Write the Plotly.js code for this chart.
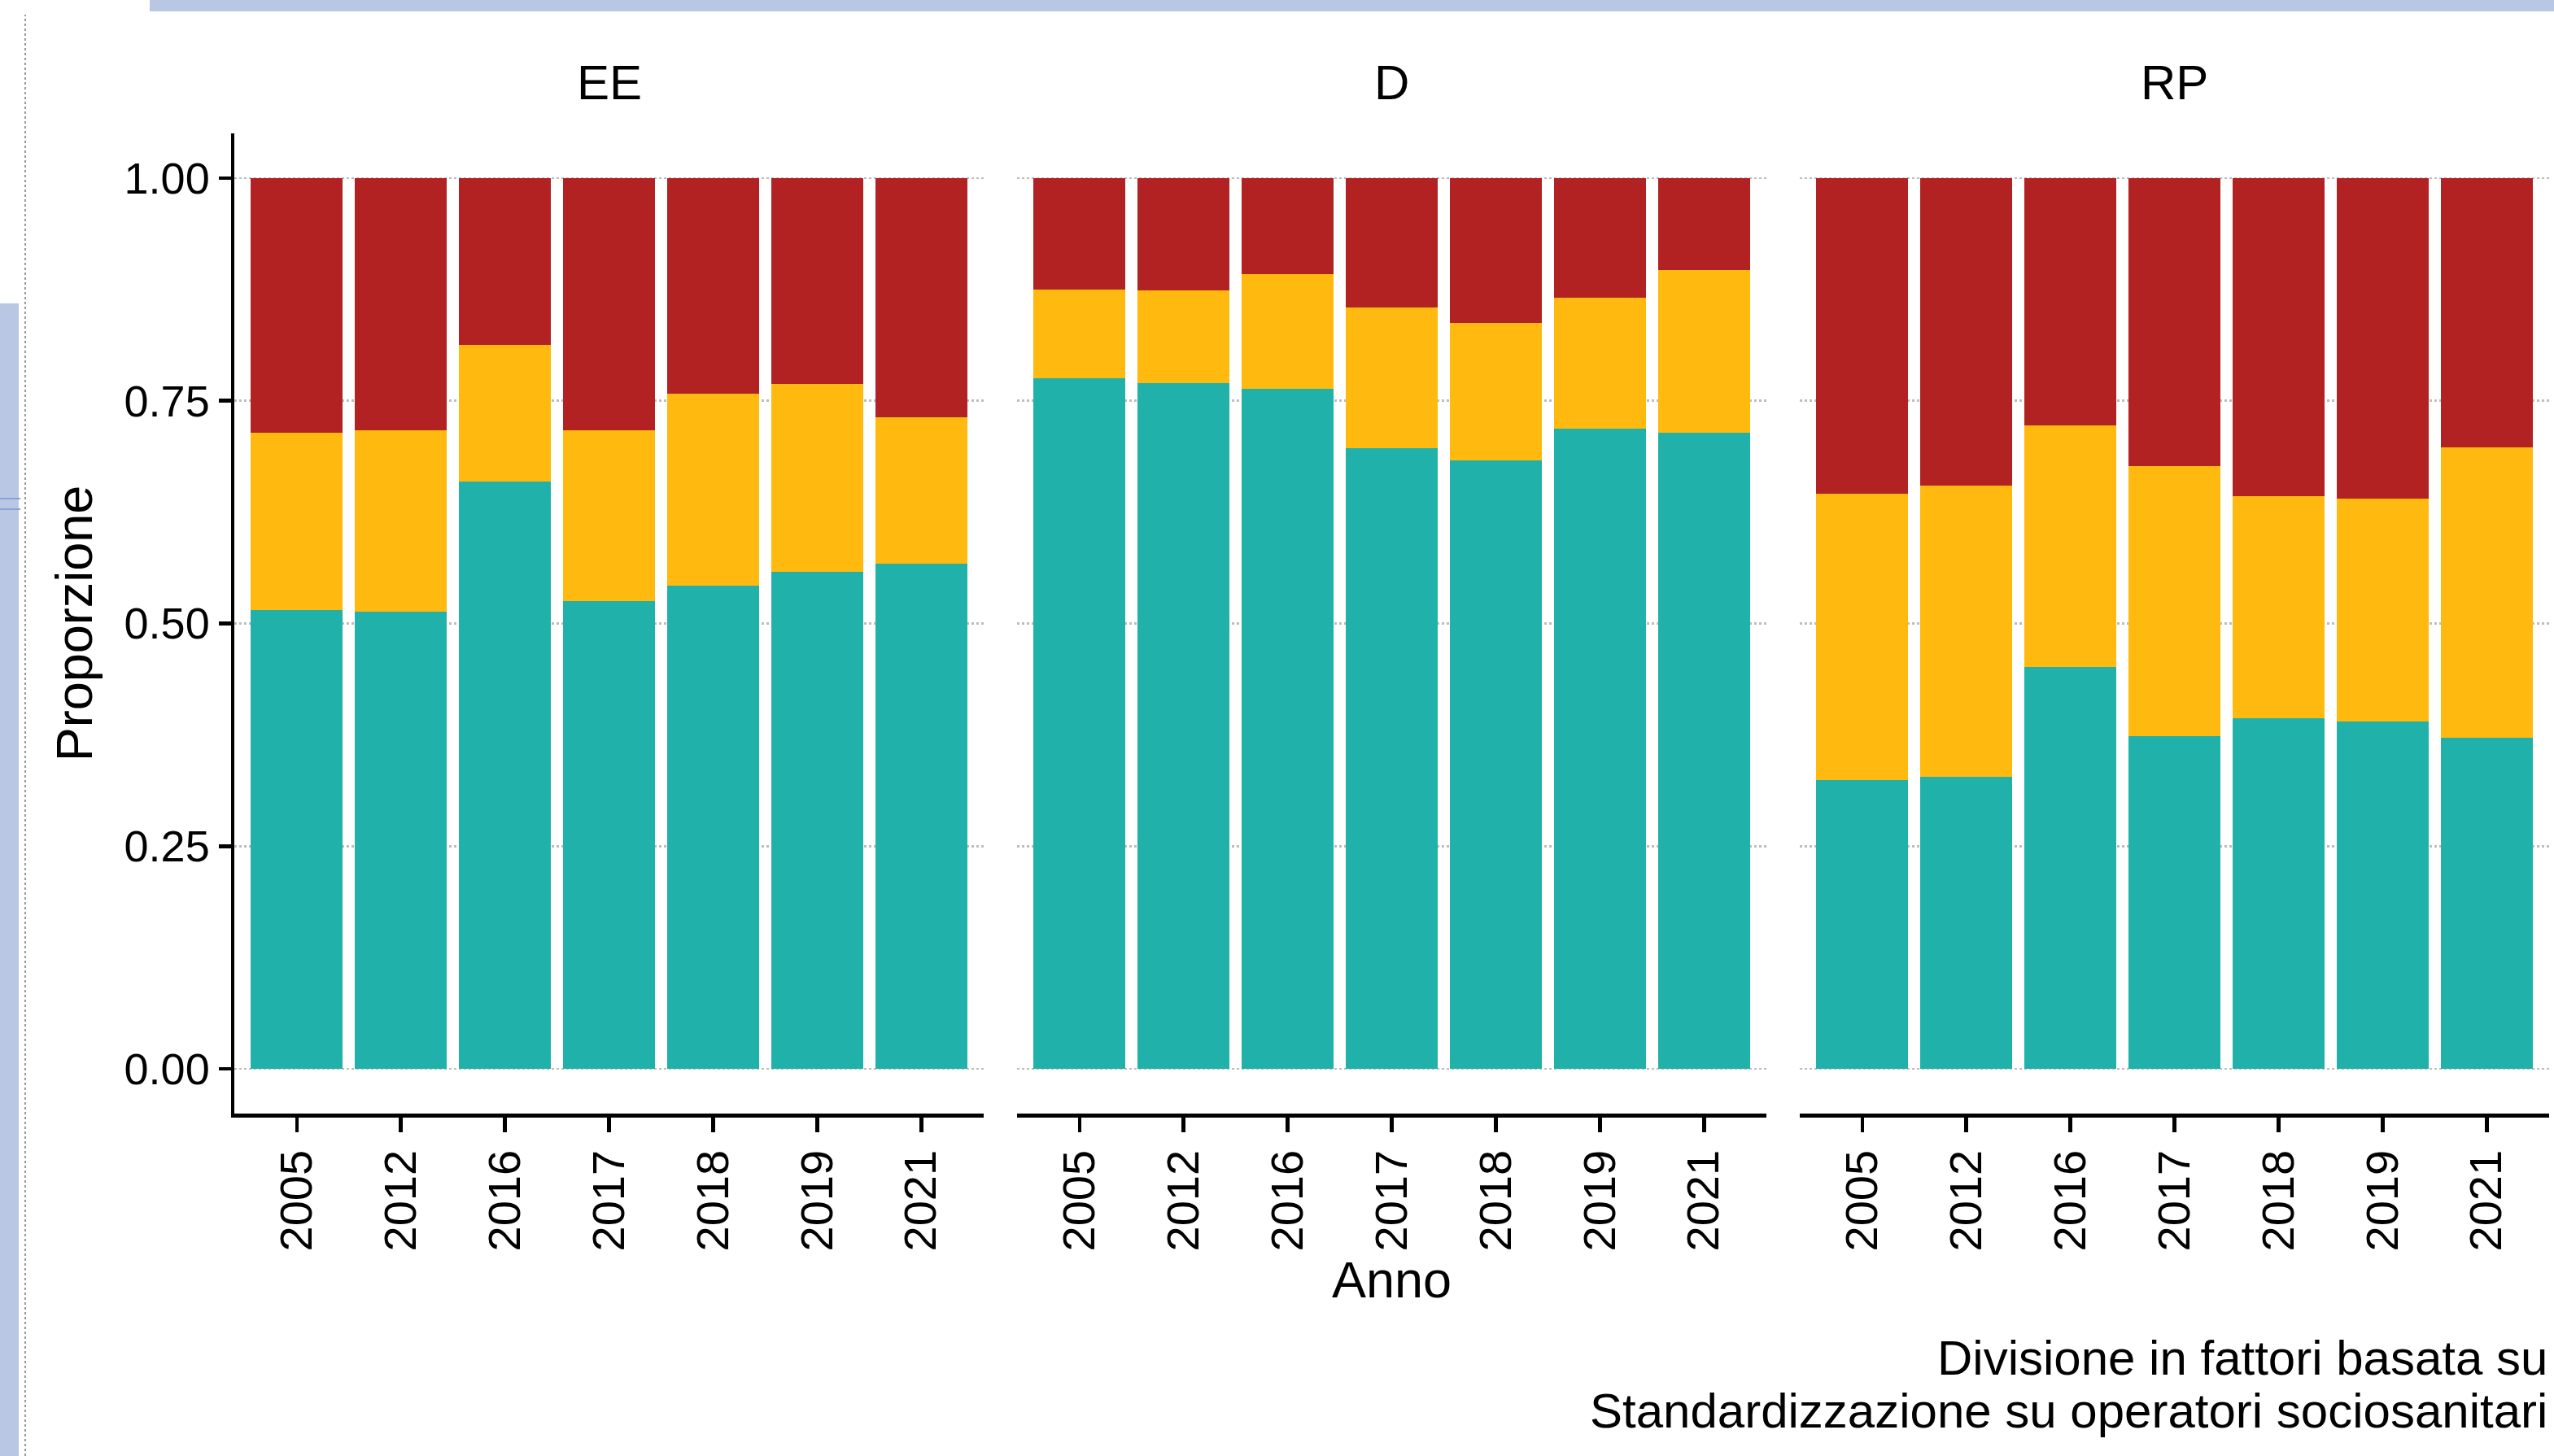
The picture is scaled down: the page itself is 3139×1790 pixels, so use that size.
<!DOCTYPE html>
<html>
<head>
<meta charset="utf-8">
<script src="https://cdn.plot.ly/plotly-3.0.1.min.js"></script>
<style>html,body{margin:0;padding:0;background:#fff;}#chart{width:3139px;height:1790px;}</style>
</head>
<body>
<div id="chart"></div>
<script>
// ---- data ----
const years = ["2005", "2012", "2016", "2017", "2018", "2019", "2021"];
const panels = ["EE", "D", "RP"];

// bottom segment (teal)
const eeTeal   = [0.515, 0.513, 0.659, 0.525, 0.542, 0.558, 0.567];
const dTeal    = [0.775, 0.770, 0.763, 0.697, 0.683, 0.719, 0.714];
const rpTeal   = [0.324, 0.328, 0.451, 0.374, 0.394, 0.390, 0.372];
// middle segment (yellow)
const eeYellow = [0.199, 0.204, 0.154, 0.192, 0.216, 0.211, 0.164];
const dYellow  = [0.100, 0.104, 0.129, 0.158, 0.154, 0.147, 0.183];
const rpYellow = [0.322, 0.327, 0.271, 0.303, 0.249, 0.250, 0.326];
// top segment (red)
const eeRed    = [0.286, 0.283, 0.187, 0.283, 0.242, 0.231, 0.269];
const dRed     = [0.125, 0.126, 0.108, 0.145, 0.163, 0.134, 0.103];
const rpRed    = [0.354, 0.345, 0.278, 0.323, 0.357, 0.360, 0.302];

const yTicks = [0, 0.25, 0.5, 0.75, 1];
const yTickText = ["0.00", "0.25", "0.50", "0.75", "1.00"];
const captionLines = ["Divisione in fattori basata su", "Standardizzazione su operatori sociosanitari"];

// ---- styling ----
const COL_TEAL = "#20B2AA", COL_YEL = "#FFB90F", COL_RED = "#B22222";
const FONT = "Liberation Sans, Arial, Helvetica, sans-serif";
const W = 3139, H = 1790;
const px = v => v / W;             // paper x from pixel
const py = v => 1 - v / H;         // paper y from pixel

const segs = [
  {name: "Fattore 1", color: COL_TEAL, vals: [eeTeal, dTeal, rpTeal]},
  {name: "Fattore 2", color: COL_YEL,  vals: [eeYellow, dYellow, rpYellow]},
  {name: "Fattore 3", color: COL_RED,  vals: [eeRed, dRed, rpRed]}
];

const traces = [];
segs.forEach(s => {
  for (let p = 0; p < 3; p++) {
    traces.push({
      type: "bar",
      x: years,
      y: s.vals[p],
      name: s.name,
      legendgroup: s.name,
      showlegend: false,
      xaxis: p === 0 ? "x" : "x" + (p + 1),
      yaxis: p === 0 ? "y" : "y" + (p + 1),
      marker: {color: s.color, line: {width: 0}},
      hovertemplate: panels[p] + " %{x}: %{y:.3f}<extra>" + s.name + "</extra>"
    });
  }
});

const panelPx = [[288, 1209], [1250, 2171], [2212, 3133]];
const yDom = [py(1369), py(164)];

function xAxis(i) {
  return {
    type: "category",
    categoryorder: "array",
    categoryarray: years,
    domain: [px(panelPx[i][0]), px(panelPx[i][1])],
    anchor: i === 0 ? "y" : "y" + (i + 1),
    range: [-0.6, 6.6],
    showline: true, linecolor: "#000", linewidth: 4.5,
    ticks: "outside", ticklen: 18, tickwidth: 4.5, tickcolor: "#000",
    tickangle: -90,
    tickfont: {family: FONT, size: 56, color: "#000"},
    showgrid: false, zeroline: false, fixedrange: true
  };
}
function yAxis(i) {
  const a = {
    domain: yDom,
    anchor: i === 0 ? "x" : "x" + (i + 1),
    range: [-0.05, 1.05],
    tickmode: "array", tickvals: yTicks, ticktext: yTickText,
    showgrid: true, gridcolor: "#bdbdbd", gridwidth: 2.5, griddash: "dot",
    zeroline: false, fixedrange: true
  };
  if (i === 0) {
    Object.assign(a, {
      showline: true, linecolor: "#000", linewidth: 4.5,
      ticks: "outside", ticklen: 15, tickwidth: 4.5, tickcolor: "#000",
      tickfont: {family: FONT, size: 54, color: "#000"},
      title: {text: "Proporzione", font: {family: FONT, size: 63, color: "#000"}, standoff: 20}
    });
  } else {
    Object.assign(a, {showline: false, ticks: "", showticklabels: false, matches: "y"});
  }
  return a;
}

const layout = {
  width: W, height: H,
  margin: {l: 0, r: 0, t: 0, b: 0, pad: 0},
  paper_bgcolor: "#fff", plot_bgcolor: "rgba(0,0,0,0)",
  barmode: "stack", bargap: 0.12,
  showlegend: false,
  font: {family: FONT, color: "#000"},
  xaxis: xAxis(0), xaxis2: xAxis(1), xaxis3: xAxis(2),
  yaxis: yAxis(0), yaxis2: yAxis(1), yaxis3: yAxis(2),
  annotations: [],
  shapes: [
    // slide background remnants around the screenshot
    {type: "rect", xref: "paper", yref: "paper", x0: px(184), x1: 1, y0: py(14), y1: 1, fillcolor: "#b9c7e4", line: {width: 0}, layer: "below"},
    {type: "rect", xref: "paper", yref: "paper", x0: 0, x1: px(23), y0: 0, y1: py(373), fillcolor: "#b9c7e4", line: {width: 0}, layer: "below"},
    {type: "line", xref: "paper", yref: "paper", x0: px(31), x1: px(31), y0: 0, y1: py(18), line: {color: "#9a9a9a", width: 2, dash: "dot"}, layer: "below"},
    {type: "line", xref: "paper", yref: "paper", x0: 0, x1: px(25), y0: py(613), y1: py(613), line: {color: "#8aa2cf", width: 2}, layer: "below"},
    {type: "line", xref: "paper", yref: "paper", x0: 0, x1: px(25), y0: py(626), y1: py(626), line: {color: "#8aa2cf", width: 2}, layer: "below"}
  ]
};

// x-axis title on the middle panel (centred under the three panels)
layout.xaxis2.title = {text: "Anno", font: {family: FONT, size: 63, color: "#000"}, standoff: 14};

// facet strip labels
panels.forEach((p, i) => {
  layout.annotations.push({
    xref: "paper", yref: "paper",
    x: px((panelPx[i][0] + panelPx[i][1]) / 2), y: py(102),
    xanchor: "center", yanchor: "middle",
    text: p, showarrow: false,
    font: {family: FONT, size: 60, color: "#000"}
  });
});
// caption
captionLines.forEach((t, i) => {
  layout.annotations.push({
    xref: "paper", yref: "paper",
    x: px(3133), y: py(1669 + i * 65),
    xanchor: "right", yanchor: "middle",
    text: t, showarrow: false,
    font: {family: FONT, size: 60, color: "#000"}
  });
});

Plotly.newPlot("chart", traces, layout, {displayModeBar: false, staticPlot: true});
</script>
</body>
</html>
